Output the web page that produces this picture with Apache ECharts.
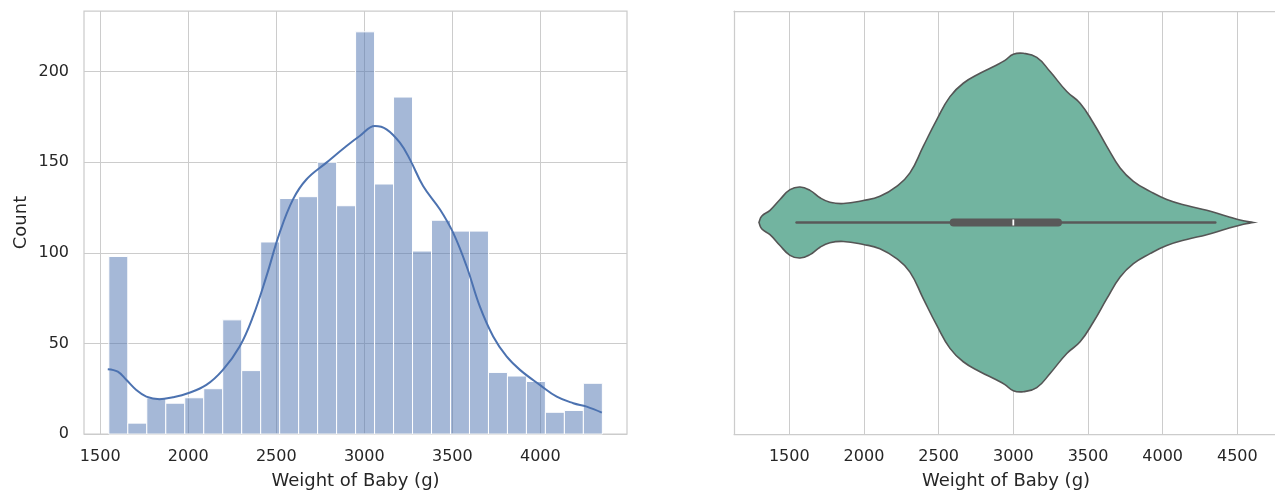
<!DOCTYPE html>
<html>
<head>
<meta charset="utf-8">
<style>
  html, body { margin: 0; padding: 0; background: #ffffff; }
  #chart { width: 1275px; height: 493px; }
</style>
<script src="https://cdn.jsdelivr.net/npm/echarts@6.0.0/dist/echarts.min.js"></script>
</head>
<body>
<div id="chart"></div>
<script>
// Birth weight sample: range, histogram counts, KDE curve, violin outline, box summary
const weightMin = 1549;
const weightMax = 4352;
const binCounts = [98, 6, 20, 17, 20, 25, 63, 35, 106, 130, 131, 150, 126,
                   222, 138, 186, 101, 118, 112, 112, 34, 32, 29, 12, 13, 28];

// KDE curve scaled to counts (histogram overlay)
const kdeWeights = [1543, 1600, 1648, 1705, 1762, 1837, 1913, 1998, 2103, 2197, 2292, 2368,
                    2444, 2519, 2595, 2671, 2785, 2899, 2974, 3060, 3126, 3202, 3259, 3334,
                    3430, 3505, 3581, 3656, 3732, 3808, 3884, 3997, 4093, 4187, 4263, 4349];
const kdeCounts  = [35.8, 34.4, 29.9, 24.3, 20.6, 19.2, 20.3, 22.5, 27.1, 35.4, 48.3, 64.9,
                    87.0, 111.0, 129.5, 140.5, 149.8, 159.0, 164.5, 170.0, 168.2, 160.8, 151.6, 136.9,
                    123.9, 111.0, 92.6, 70.4, 53.8, 42.8, 35.4, 27.1, 20.6, 17.0, 15.1, 11.8];

// Violin outline: relative density (1 = widest point)
const violinWeights = [1297, 1315, 1371, 1438, 1505, 1572, 1639, 1706, 1772, 1862, 1996, 2107,
                       2219, 2308, 2397, 2487, 2576, 2665, 2777, 2889, 2944, 3000, 3067, 3157,
                       3246, 3358, 3447, 3536, 3626, 3715, 3804, 3915, 4027, 4161, 4295, 4429,
                       4540, 4607];
const violinDensity = [0, 0.037, 0.072, 0.136, 0.194, 0.210, 0.190, 0.146, 0.120, 0.112, 0.130, 0.155,
                       0.214, 0.293, 0.450, 0.607, 0.744, 0.823, 0.882, 0.931, 0.958, 0.994, 1.0, 0.976,
                       0.892, 0.774, 0.705, 0.588, 0.450, 0.322, 0.243, 0.184, 0.136, 0.100, 0.072, 0.037,
                       0.010, 0];

// [min, Q1, median, Q3, max]
const boxStats = [1549, 2600, 3000, 3300, 4352];

const histXTicks = [1500, 2000, 2500, 3000, 3500, 4000];
const violinXTicks = [1500, 2000, 2500, 3000, 3500, 4000, 4500];
const countTicks = [0, 50, 100, 150, 200];

// ---- derived tables ----
const binWidth = (weightMax - weightMin) / binCounts.length;
const histBars = binCounts.map((c, i) => [weightMin + i * binWidth, weightMin + (i + 1) * binWidth, c]);
const kdeLine = kdeWeights.map((w, i) => [w, kdeCounts[i]]);
const violinData = violinWeights.map((w, i) => [w, violinDensity[i]]);

const FONT = 'DejaVu Sans';
const TEXT = '#262626';
const GRID = '#cccccc';
const SPINE = { show: true, onZero: false, lineStyle: { color: GRID, width: 1.25 } };
const plain = v => String(v);

function valueAxis(gridIndex, min, max, ticks, name, axisLine) {
  return {
    type: 'value', gridIndex, min, max,
    name, nameLocation: 'middle', nameGap: 38,
    nameTextStyle: { fontFamily: FONT, fontSize: 18, color: TEXT },
    axisLine,
    axisTick: { show: false, customValues: ticks },
    axisLabel: { customValues: ticks, formatter: plain, margin: 15, fontFamily: FONT, fontSize: 16, color: TEXT },
    splitLine: { show: true, lineStyle: { color: GRID, width: 1 } }
  };
}

const chart = echarts.init(document.getElementById('chart'), null, { renderer: 'canvas' });

chart.setOption({
  animation: false,
  backgroundColor: '#ffffff',
  grid: [
    { left: 84, top: 11, width: 543, height: 423, outerBoundsMode: 'none', containLabel: false,
      show: true, borderColor: GRID, borderWidth: 1.25, backgroundColor: 'transparent' },
    // right panel: its right edge runs past the canvas, so only three spines are drawn
    { left: 734, top: 11, width: 544, height: 423, outerBoundsMode: 'none', containLabel: false, show: false }
  ],
  xAxis: [
    valueAxis(0, 1408, 4492, histXTicks, 'Weight of Baby (g)', { show: false }),
    valueAxis(1, 1130, 4772, violinXTicks, 'Weight of Baby (g)', SPINE),
    {
      type: 'value', gridIndex: 1, min: 1130, max: 4772, position: 'top',
      axisLine: SPINE, axisTick: { show: false }, axisLabel: { show: false }, splitLine: { show: false }
    }
  ],
  yAxis: [
    {
      type: 'value', gridIndex: 0, min: 0, max: 233.5,
      name: 'Count', nameLocation: 'middle', nameGap: 54,
      nameTextStyle: { fontFamily: FONT, fontSize: 18, color: TEXT },
      axisLine: { show: false },
      axisTick: { show: false, customValues: countTicks },
      axisLabel: { customValues: countTicks, formatter: plain, margin: 15, fontFamily: FONT, fontSize: 16, color: TEXT },
      splitLine: { show: true, lineStyle: { color: GRID, width: 1 } }
    },
    {
      type: 'value', gridIndex: 1, min: -0.5, max: 0.5,
      axisLine: SPINE, axisTick: { show: false },
      axisLabel: { show: false }, splitLine: { show: false }
    }
  ],
  series: [
    {
      // histogram bars
      type: 'custom', xAxisIndex: 0, yAxisIndex: 0, silent: true,
      data: histBars,
      encode: { x: [0, 1], y: 2 },
      renderItem(params, api) {
        const p0 = api.coord([api.value(0), api.value(2)]);
        const p1 = api.coord([api.value(1), 0]);
        return {
          type: 'rect',
          shape: { x: p0[0], y: p0[1], width: p1[0] - p0[0], height: p1[1] - p0[1] },
          style: { fill: 'rgba(76,114,176,0.5)', stroke: '#ffffff', lineWidth: 1 }
        };
      }
    },
    {
      // KDE overlay
      type: 'line', xAxisIndex: 0, yAxisIndex: 0, silent: true,
      data: kdeLine, showSymbol: false, smooth: 0.4, z: 5,
      lineStyle: { color: '#4c72b0', width: 2 }
    },
    {
      // violin body
      type: 'custom', xAxisIndex: 1, yAxisIndex: 1, silent: true,
      data: violinData,
      encode: { x: 0, y: 1 },
      renderItem(params, api) {
        if (params.dataIndex !== 0) return null;
        const half = 0.4;
        const top = violinData.map(d => api.coord([d[0], d[1] * half]));
        const bottom = violinData.slice().reverse().map(d => api.coord([d[0], -d[1] * half]));
        return {
          type: 'polygon',
          shape: { points: top.concat(bottom), smooth: 0.45 },
          style: { fill: '#72b4a0', stroke: '#555555', lineWidth: 1.6 }
        };
      }
    },
    {
      // inner box: whiskers, IQR bar, median
      type: 'custom', xAxisIndex: 1, yAxisIndex: 1, silent: true, z: 4,
      data: [boxStats],
      encode: { x: [0, 1, 2, 3, 4] },
      renderItem(params, api) {
        const lo = api.coord([api.value(0), 0]);
        const q1 = api.coord([api.value(1), 0]);
        const med = api.coord([api.value(2), 0]);
        const q3 = api.coord([api.value(3), 0]);
        const hi = api.coord([api.value(4), 0]);
        return {
          type: 'group',
          children: [
            { type: 'line', shape: { x1: lo[0], y1: lo[1], x2: hi[0], y2: hi[1] },
              style: { stroke: '#595959', lineWidth: 2.6, lineCap: 'round' } },
            { type: 'line', shape: { x1: q1[0], y1: q1[1], x2: q3[0], y2: q3[1] },
              style: { stroke: '#595959', lineWidth: 7.8, lineCap: 'round' } },
            { type: 'line', shape: { x1: med[0], y1: med[1] - 3, x2: med[0], y2: med[1] + 3 },
              style: { stroke: '#ffffff', lineWidth: 1.8 } }
          ]
        };
      }
    }
  ]
});
</script>
</body>
</html>
